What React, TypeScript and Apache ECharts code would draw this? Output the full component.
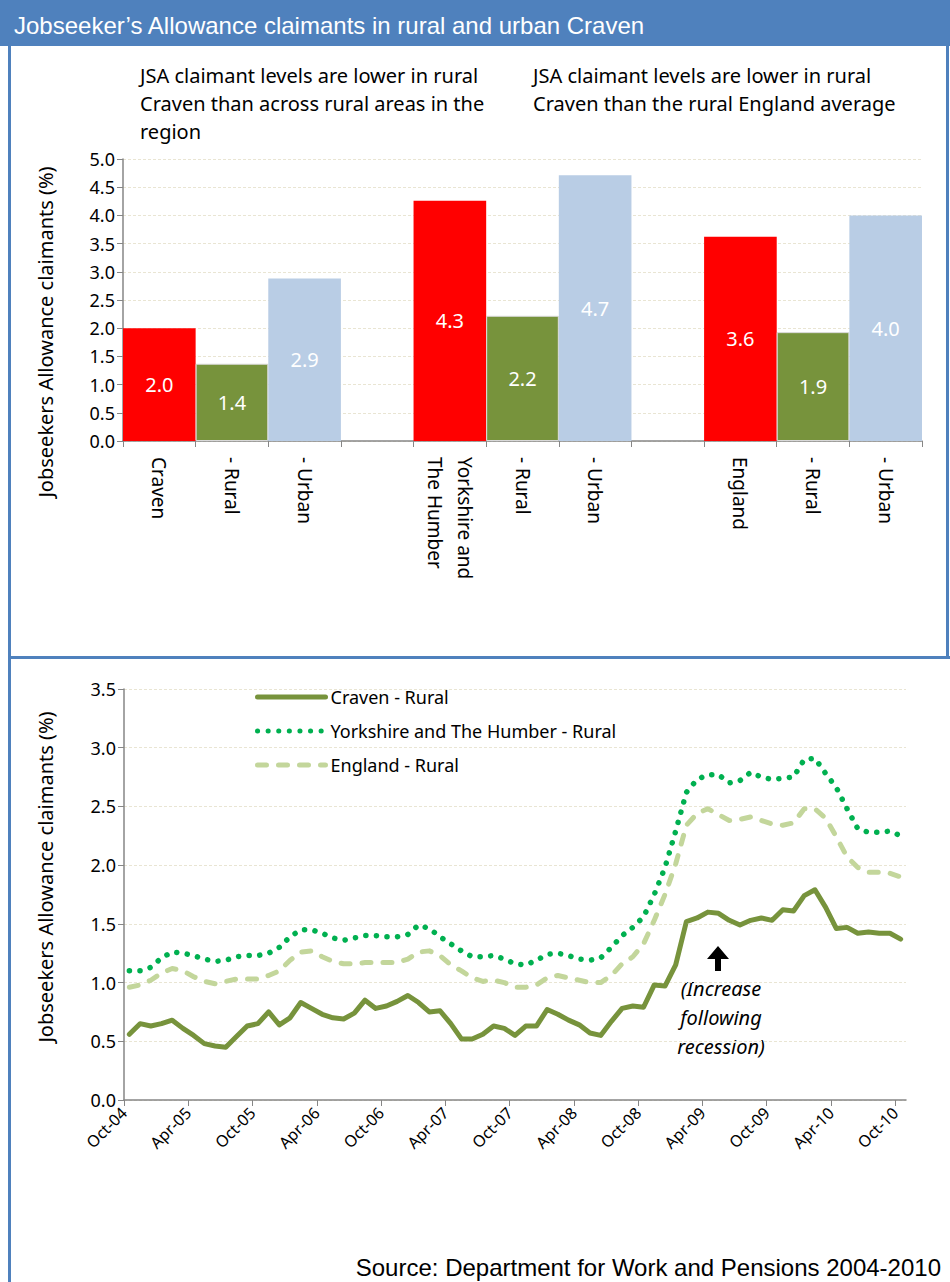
import React, { useEffect, useRef } from "react";
import * as echarts from "echarts";

// ---------- Bar chart data ----------
const barCategories = [
  "Craven", "- Rural", "- Urban", "",
  "Yorkshire and\nThe Humber", "- Rural", "- Urban", "",
  "England", "- Rural", "- Urban",
];
const barValues: (number | null)[] = [2.0, 1.37, 2.88, null, 4.26, 2.22, 4.71, null, 3.62, 1.93, 4.0];

// ---------- Line chart data (monthly, Oct-04 .. Oct-10) ----------
const tickLabels = [
  "Oct-04", "Apr-05", "Oct-05", "Apr-06", "Oct-06", "Apr-07", "Oct-07",
  "Apr-08", "Oct-08", "Apr-09", "Oct-09", "Apr-10", "Oct-10",
];
const cravenRural = [
  0.56, 0.65, 0.63, 0.65, 0.68, 0.61, 0.55, 0.48, 0.46, 0.45,
  0.54, 0.63, 0.65, 0.75, 0.64, 0.70, 0.83, 0.78, 0.73, 0.70,
  0.69, 0.74, 0.85, 0.78, 0.80, 0.84, 0.89, 0.83, 0.75, 0.76,
  0.65, 0.52, 0.52, 0.56, 0.63, 0.61, 0.55, 0.63, 0.63, 0.77,
  0.73, 0.68, 0.64, 0.57, 0.55, 0.67, 0.78, 0.80, 0.79, 0.98,
  0.97, 1.15, 1.52, 1.55, 1.60, 1.59, 1.53, 1.49, 1.53, 1.55,
  1.53, 1.62, 1.61, 1.74, 1.79, 1.64, 1.46, 1.47, 1.42, 1.43,
  1.42, 1.42, 1.37,
];
const yorkshireRural = [
  1.10, 1.10, 1.13, 1.21, 1.26, 1.25, 1.23, 1.20, 1.18, 1.19,
  1.22, 1.23, 1.23, 1.25, 1.30, 1.39, 1.45, 1.45, 1.42, 1.38,
  1.36, 1.38, 1.40, 1.40, 1.39, 1.39, 1.41, 1.49, 1.46, 1.39,
  1.33, 1.27, 1.22, 1.22, 1.23, 1.20, 1.16, 1.15, 1.19, 1.24,
  1.25, 1.23, 1.20, 1.19, 1.21, 1.30, 1.40, 1.47, 1.56, 1.75,
  1.98, 2.29, 2.62, 2.73, 2.77, 2.77, 2.70, 2.72, 2.79, 2.75,
  2.73, 2.74, 2.75, 2.90, 2.91, 2.78, 2.66, 2.48, 2.31, 2.28,
  2.28, 2.29, 2.25,
];
const englandRural = [
  0.96, 0.98, 1.02, 1.08, 1.12, 1.10, 1.05, 1.01, 0.99, 1.01,
  1.03, 1.03, 1.03, 1.06, 1.10, 1.19, 1.26, 1.27, 1.22, 1.18,
  1.16, 1.16, 1.17, 1.17, 1.17, 1.17, 1.20, 1.26, 1.27, 1.23,
  1.15, 1.10, 1.04, 1.01, 1.02, 1.00, 0.96, 0.96, 0.98, 1.04,
  1.06, 1.04, 1.02, 1.00, 1.00, 1.06, 1.16, 1.22, 1.33, 1.53,
  1.75, 2.01, 2.34, 2.44, 2.48, 2.43, 2.38, 2.39, 2.41, 2.38,
  2.35, 2.34, 2.36, 2.48, 2.48, 2.40, 2.24, 2.07, 1.98, 1.94,
  1.94, 1.93, 1.90,
];
const seriesNames = ["Craven - Rural", "Yorkshire and The Humber - Rural", "England - Rural"];

const BLUE = "#4F81BD";
const FONT = "Noto Sans";
const GRID_COLOR = "#E9E5D3";
const AXIS_COLOR = "#868686";
const barColors = ["#FF0000", "#77933C", "#B9CDE5", "#FFFFFF"];

export default function App() {
  const ref = useRef<HTMLDivElement>(null);

  useEffect(() => {
    document.body.style.margin = "0";
    const chart = echarts.init(ref.current!, null, { renderer: "svg" });

    const toPts = (arr: number[]) => arr.map((v, i) => [i + 0.5, v]);

    const option: any = {
      animation: false,
      backgroundColor: "#FFFFFF",
      textStyle: { fontFamily: FONT },
      grid: [
        { left: 123, top: 159, width: 799, height: 282 },
        { left: 124, top: 689, width: 782, height: 411 },
      ],
      xAxis: [
        {
          type: "category",
          gridIndex: 0,
          data: barCategories,
          axisLine: { lineStyle: { color: AXIS_COLOR, width: 1.5 } },
          axisTick: { show: true, length: 6, lineStyle: { color: AXIS_COLOR } },
          axisLabel: {
            rotate: -90,
            interval: 0,
            margin: 16,
            color: "#000",
            fontSize: 19,
            fontFamily: FONT,
            lineHeight: 30,
          },
        },
        {
          type: "value",
          gridIndex: 1,
          min: 0,
          max: 73,
          interval: 6,
          splitLine: { show: false },
          axisLine: { onZero: false, lineStyle: { color: AXIS_COLOR, width: 1.5 } },
          axisTick: { show: true, length: 6, lineStyle: { color: AXIS_COLOR } },
          axisLabel: {
            rotate: 45,
            margin: 10,
            color: "#000",
            fontSize: 16,
            fontFamily: FONT,
            showMaxLabel: false,
            formatter: (v: number) => (v % 6 === 0 && tickLabels[v / 6]) || "",
          },
        },
      ],
      yAxis: [
        {
          type: "value",
          gridIndex: 0,
          min: 0,
          max: 5,
          interval: 0.5,
          axisLine: { show: true, lineStyle: { color: AXIS_COLOR, width: 1.5 } },
          axisTick: { show: true, length: 6, lineStyle: { color: AXIS_COLOR } },
          splitLine: { show: true, lineStyle: { color: GRID_COLOR, type: [3, 2], width: 1 } },
          axisLabel: {
            color: "#000",
            fontSize: 18,
            fontFamily: FONT,
            margin: 8,
            formatter: (v: number) => v.toFixed(1),
          },
        },
        {
          type: "value",
          gridIndex: 1,
          min: 0,
          max: 3.5,
          interval: 0.5,
          axisLine: { show: true, lineStyle: { color: AXIS_COLOR, width: 1.5 } },
          axisTick: { show: true, length: 6, lineStyle: { color: AXIS_COLOR } },
          splitLine: { show: true, lineStyle: { color: GRID_COLOR, type: [3, 2], width: 1 } },
          axisLabel: {
            color: "#000",
            fontSize: 18,
            fontFamily: FONT,
            margin: 8,
            formatter: (v: number) => v.toFixed(1),
          },
        },
      ],
      legend: {
        data: seriesNames,
        orient: "vertical",
        left: 250,
        top: 683,
        itemWidth: 68,
        itemHeight: 12,
        itemGap: 16,
        itemStyle: { opacity: 0 },
        lineStyle: { width: 5, cap: "round" },
        textStyle: { fontSize: 18, fontFamily: FONT, color: "#000" },
      },
      series: [
        {
          type: "bar",
          xAxisIndex: 0,
          yAxisIndex: 0,
          barCategoryGap: "0%",
          barWidth: "100%",
          data: barValues.map((v, i) => ({
            value: v,
            itemStyle: {
              color: barColors[i % 4],
              borderColor: i % 4 === 1 ? "#D9D9D9" : barColors[i % 4],
              borderWidth: i % 4 === 1 ? 1 : 0,
            },
          })),
          label: {
            show: true,
            position: "inside",
            color: "#FFFFFF",
            fontSize: 20,
            fontFamily: FONT,
            formatter: (p: any) => (p.value == null ? "" : Number(p.value).toFixed(1)),
          },
        },
        {
          name: seriesNames[0],
          type: "line",
          xAxisIndex: 1,
          yAxisIndex: 1,
          symbol: "none",
          data: toPts(cravenRural),
          lineStyle: { color: "#77933C", width: 5, cap: "round", join: "round" },
          itemStyle: { color: "#77933C" },
          z: 5,
        },
        {
          name: seriesNames[1],
          type: "line",
          xAxisIndex: 1,
          yAxisIndex: 1,
          symbol: "none",
          data: toPts(yorkshireRural),
          lineStyle: { color: "#00B050", width: 5.5, type: [0.1, 10.5], cap: "round", join: "round" },
          itemStyle: { color: "#00B050" },
          z: 4,
        },
        {
          name: seriesNames[2],
          type: "line",
          xAxisIndex: 1,
          yAxisIndex: 1,
          symbol: "none",
          data: toPts(englandRural),
          lineStyle: { color: "#C3D69B", width: 5, type: [9, 12], cap: "round", join: "round" },
          itemStyle: { color: "#C3D69B" },
          z: 3,
        },
      ],
      graphic: [
        { type: "rect", shape: { x: 0, y: 0, width: 950, height: 46 }, style: { fill: BLUE }, silent: true },
        {
          type: "text", x: 14, y: 25,
          style: { text: "Jobseeker\u2019s Allowance claimants in rural and urban Craven", fill: "#FFFFFF", font: '24px "Liberation Sans"', verticalAlign: "middle" },
        },
        { type: "rect", shape: { x: 8, y: 46, width: 3, height: 1236 }, style: { fill: BLUE }, silent: true },
        { type: "rect", shape: { x: 946, y: 46, width: 3, height: 612 }, style: { fill: BLUE }, silent: true },
        { type: "rect", shape: { x: 8, y: 656, width: 942, height: 3 }, style: { fill: BLUE }, silent: true },
        {
          type: "text", x: 140, y: 61,
          style: {
            text: "JSA claimant levels are lower in rural\nCraven than across rural areas in the\nregion",
            fill: "#000", font: `20px "${FONT}"`, lineHeight: 28,
          },
        },
        {
          type: "text", x: 533, y: 61,
          style: {
            text: "JSA claimant levels are lower in rural\nCraven than the rural England average",
            fill: "#000", font: `20px "${FONT}"`, lineHeight: 28,
          },
        },
        {
          type: "text", x: 45, y: 332, rotation: Math.PI / 2,
          style: { text: "Jobseekers Allowance claimants (%)", fill: "#000", font: `20px "${FONT}"`, align: "center", verticalAlign: "middle" },
        },
        {
          type: "text", x: 45, y: 877, rotation: Math.PI / 2,
          style: { text: "Jobseekers Allowance claimants (%)", fill: "#000", font: `20px "${FONT}"`, align: "center", verticalAlign: "middle" },
        },
        {
          type: "polygon",
          shape: { points: [[718, 946], [707, 959], [715, 959], [715, 971], [721, 971], [721, 959], [729, 959]] },
          style: { fill: "#000" },
        },
        {
          type: "text", x: 721, y: 974,
          style: { text: "(Increase\nfollowing\nrecession)", fill: "#000", font: `italic 20px "${FONT}"`, align: "center", lineHeight: 29 },
        },
        {
          type: "text", x: 941, y: 1267,
          style: { text: "Source: Department for Work and Pensions 2004-2010", fill: "#000", font: '24px "Liberation Sans"', align: "right", verticalAlign: "middle" },
        },
      ],
    };

    chart.setOption(option);
    return () => chart.dispose();
  }, []);

  return (
    <div
      ref={ref}
      style={{ position: "absolute", left: 0, top: 0, width: 950, height: 1282 }}
    />
  );
}
